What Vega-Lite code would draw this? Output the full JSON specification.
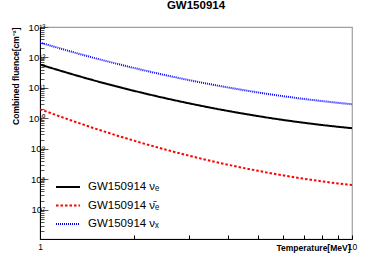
{
  "$schema": "https://vega.github.io/schema/vega-lite/v6.json",
  "autosize": {"type": "none"},
  "padding": {"left": 40, "top": 27, "right": 40, "bottom": 28},
  "width": 312,
  "height": 212,
  "background": "white",
  "title": {"text": "GW150914", "orient": "top", "fontSize": 11.5, "fontWeight": "bold", "font": "Liberation Sans", "color": "black", "anchor": "middle", "frame": "group", "baseline": "alphabetic", "offset": 1.5},
  "config": {
    "font": "Liberation Sans",
    "view": {"stroke": "#a0a0a0", "strokeWidth": 1.2}
  },
  "data": {"values": [
    {"T": 1, "flux": 5.85e11, "series": "GW150914 νₑ"},
    {"T": 1.5, "flux": 1.73e11, "series": "GW150914 νₑ"},
    {"T": 2, "flux": 8.05e10, "series": "GW150914 νₑ"},
    {"T": 3, "flux": 3.13e10, "series": "GW150914 νₑ"},
    {"T": 4, "flux": 1.76e10, "series": "GW150914 νₑ"},
    {"T": 5, "flux": 1.19e10, "series": "GW150914 νₑ"},
    {"T": 6, "flux": 8.93e9, "series": "GW150914 νₑ"},
    {"T": 7, "flux": 7.2e9, "series": "GW150914 νₑ"},
    {"T": 8, "flux": 6.08e9, "series": "GW150914 νₑ"},
    {"T": 9, "flux": 5.32e9, "series": "GW150914 νₑ"},
    {"T": 10, "flux": 4.77e9, "series": "GW150914 νₑ"},
    {"T": 1, "flux": 2.0e10, "series": "GW150914 ν̄ₑ"},
    {"T": 1.5, "flux": 4.66e9, "series": "GW150914 ν̄ₑ"},
    {"T": 2, "flux": 1.86e9, "series": "GW150914 ν̄ₑ"},
    {"T": 3, "flux": 6.0e8, "series": "GW150914 ν̄ₑ"},
    {"T": 4, "flux": 3.02e8, "series": "GW150914 ν̄ₑ"},
    {"T": 5, "flux": 1.9e8, "series": "GW150914 ν̄ₑ"},
    {"T": 6, "flux": 1.35e8, "series": "GW150914 ν̄ₑ"},
    {"T": 7, "flux": 1.05e8, "series": "GW150914 ν̄ₑ"},
    {"T": 8, "flux": 8.6e7, "series": "GW150914 ν̄ₑ"},
    {"T": 9, "flux": 7.33e7, "series": "GW150914 ν̄ₑ"},
    {"T": 10, "flux": 6.46e7, "series": "GW150914 ν̄ₑ"},
    {"T": 1, "flux": 3.08e12, "series": "GW150914 νₓ"},
    {"T": 1.5, "flux": 9.5e11, "series": "GW150914 νₓ"},
    {"T": 2, "flux": 4.53e11, "series": "GW150914 νₓ"},
    {"T": 3, "flux": 1.81e11, "series": "GW150914 νₓ"},
    {"T": 4, "flux": 1.04e11, "series": "GW150914 νₓ"},
    {"T": 5, "flux": 7.1e10, "series": "GW150914 νₓ"},
    {"T": 6, "flux": 5.38e10, "series": "GW150914 νₓ"},
    {"T": 7, "flux": 4.37e10, "series": "GW150914 νₓ"},
    {"T": 8, "flux": 3.71e10, "series": "GW150914 νₓ"},
    {"T": 9, "flux": 3.25e10, "series": "GW150914 νₓ"},
    {"T": 10, "flux": 2.92e10, "series": "GW150914 νₓ"}
  ]},
  "mark": {"type": "line", "interpolate": "monotone", "clip": true},
  "encoding": {
    "x": {
      "field": "T", "type": "quantitative",
      "scale": {"type": "log", "domain": [1, 10], "nice": false},
      "axis": {
        "values": [1, 2, 3, 4, 5, 6, 7, 8, 9, 10],
        "labelExpr": "datum.value == 1 ? '1' : (datum.value == 10 ? '10' : '')",
        "labelFlush": false, "labelOverlap": false,
        "labelFontSize": 8.5, "labelColor": "black", "labelBaseline": "top", "labelPadding": 7,
        "tickSize": -4, "tickColor": "black", "tickWidth": 1,
        "domainColor": "black", "domainWidth": 1, "grid": false,
        "title": "Temperature[MeV]", "titleFontSize": 8.5, "titleFontWeight": "bold", "titleColor": "black",
        "titleAnchor": "end", "titleAlign": "right", "titleBaseline": "alphabetic",
        "titleX": 310, "titleY": 11
      }
    },
    "y": {
      "field": "flux", "type": "quantitative",
      "scale": {"type": "log", "domain": [1.1e6, 1e13], "nice": false, "zero": false},
      "axis": {
        "values": [2e6, 3e6, 4e6, 5e6, 6e6, 7e6, 8e6, 9e6,
                   1e7, 2e7, 3e7, 4e7, 5e7, 6e7, 7e7, 8e7, 9e7,
                   1e8, 2e8, 3e8, 4e8, 5e8, 6e8, 7e8, 8e8, 9e8,
                   1e9, 2e9, 3e9, 4e9, 5e9, 6e9, 7e9, 8e9, 9e9,
                   1e10, 2e10, 3e10, 4e10, 5e10, 6e10, 7e10, 8e10, 9e10,
                   1e11, 2e11, 3e11, 4e11, 5e11, 6e11, 7e11, 8e11, 9e11,
                   1e12, 2e12, 3e12, 4e12, 5e12, 6e12, 7e12, 8e12, 9e12, 1e13],
        "labelExpr": "abs(log(datum.value)/LN10 - round(log(datum.value)/LN10)) < 0.001 ? '10' + ['⁰','¹','²','³','⁴','⁵','⁶','⁷','⁸','⁹','¹⁰','¹¹','¹²','¹³'][round(log(datum.value)/LN10)] : ''",
        "labelFlush": false, "labelOverlap": false,
        "labelFontSize": 9.5, "labelColor": "black", "labelBaseline": "middle", "labelPadding": 3,
        "tickSize": {"condition": {"test": "abs(log(datum.value)/LN10 - round(log(datum.value)/LN10)) < 0.001", "value": -8}, "value": -4},
        "tickColor": "#555555", "tickWidth": 1,
        "domainColor": "black", "domainWidth": 1, "grid": false,
        "title": "Combined fluence[cm⁻²]", "titleFontSize": 8.5, "titleFontWeight": "bold", "titleColor": "black",
        "titleAngle": -90, "titleAlign": "right", "titleBaseline": "middle",
        "titleX": -25, "titleY": 0
      }
    },
    "color": {
      "field": "series", "type": "nominal",
      "scale": {"domain": ["GW150914 νₑ", "GW150914 ν̄ₑ", "GW150914 νₓ"], "range": ["#000000", "#ff0000", "#0000ff"]},
      "legend": {
        "orient": "none", "legendX": 15, "legendY": 153, "title": null,
        "symbolType": "stroke", "symbolSize": 576, "clipHeight": 14, "rowPadding": 4.5,
        "labelFontSize": 11.5, "labelColor": "black", "labelOffset": 7, "padding": 0
      }
    },
    "strokeDash": {
      "field": "series", "type": "nominal",
      "scale": {"domain": ["GW150914 νₑ", "GW150914 ν̄ₑ", "GW150914 νₓ"], "range": [[1, 0], [2.5, 2], [1, 1]]},
      "legend": null
    },
    "strokeWidth": {
      "field": "series", "type": "nominal",
      "scale": {"domain": ["GW150914 νₑ", "GW150914 ν̄ₑ", "GW150914 νₓ"], "range": [2, 2, 2]},
      "legend": null
    }
  }
}
